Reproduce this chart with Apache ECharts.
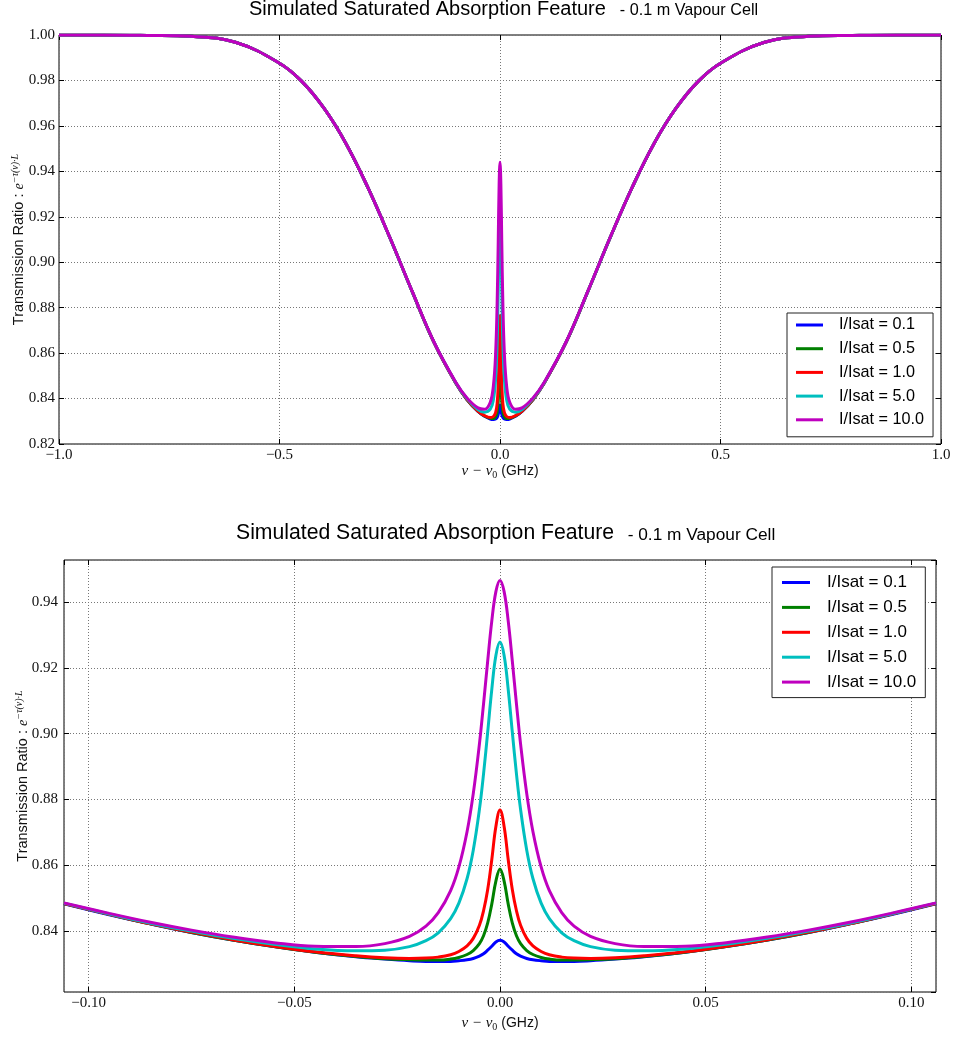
<!DOCTYPE html>
<html>
<head>
<meta charset="utf-8">
<script src="https://cdn.jsdelivr.net/npm/echarts@6/dist/echarts.min.js"></script>
<style>
html,body{margin:0;padding:0;background:#fff;}
#chart{width:954px;height:1038px;}
</style>
</head>
<body>
<div id="chart"></div>
<script>
// ---------- data ----------
const seriesNames = ['I/Isat = 0.1', 'I/Isat = 0.5', 'I/Isat = 1.0', 'I/Isat = 5.0', 'I/Isat = 10.0'];
const seriesColors = ['#0000ff', '#008000', '#ff0000', '#00bfbf', '#bf00bf'];

// full detuning range (GHz)
const xTop = [-1.0, -0.9, -0.8, -0.7, -0.6, -0.5, -0.45, -0.4, -0.35, -0.3, -0.25, -0.2, -0.15, -0.1, -0.075, -0.05, -0.035, -0.022, -0.015, -0.01, -0.0065, -0.004, -0.002,
  0,
  0.002, 0.004, 0.0065, 0.01, 0.015, 0.022, 0.035, 0.05, 0.075, 0.1, 0.15, 0.2, 0.25, 0.3, 0.35, 0.4, 0.45, 0.5, 0.6, 0.7, 0.8, 0.9, 1.0];

const blueTop = [1.0000, 1.0000, 0.9998, 0.9994, 0.9968, 0.9876, 0.9797, 0.9680, 0.9525, 0.9330, 0.9109, 0.8875, 0.8648, 0.8467, 0.8396, 0.8343, 0.8322, 0.8310, 0.8308, 0.8310, 0.8317, 0.8331, 0.8354,
  0.8372,
  0.8354, 0.8331, 0.8317, 0.8310, 0.8308, 0.8310, 0.8322, 0.8343, 0.8396, 0.8467, 0.8648, 0.8875, 0.9109, 0.9330, 0.9525, 0.9680, 0.9797, 0.9876, 0.9968, 0.9994, 0.9998, 1.0000, 1.0000];
const greenTop = [1.0000, 1.0000, 0.9998, 0.9994, 0.9968, 0.9876, 0.9797, 0.9680, 0.9525, 0.9330, 0.9109, 0.8875, 0.8648, 0.8467, 0.8396, 0.8344, 0.8323, 0.8313, 0.8312, 0.8320, 0.8341, 0.8386, 0.8482,
  0.8587,
  0.8482, 0.8386, 0.8341, 0.8320, 0.8312, 0.8313, 0.8323, 0.8344, 0.8396, 0.8467, 0.8648, 0.8875, 0.9109, 0.9330, 0.9525, 0.9680, 0.9797, 0.9876, 0.9968, 0.9994, 0.9998, 1.0000, 1.0000];
const redTop = [1.0000, 1.0000, 0.9998, 0.9994, 0.9968, 0.9876, 0.9797, 0.9680, 0.9525, 0.9330, 0.9109, 0.8875, 0.8648, 0.8467, 0.8397, 0.8345, 0.8325, 0.8317, 0.8321, 0.8338, 0.8378, 0.8462, 0.8617,
  0.8765,
  0.8617, 0.8462, 0.8378, 0.8338, 0.8321, 0.8317, 0.8325, 0.8345, 0.8397, 0.8467, 0.8648, 0.8875, 0.9109, 0.9330, 0.9525, 0.9680, 0.9797, 0.9876, 0.9968, 0.9994, 0.9998, 1.0000, 1.0000];
const cyanTop = [1.0000, 1.0000, 0.9998, 0.9994, 0.9968, 0.9876, 0.9797, 0.9680, 0.9525, 0.9330, 0.9109, 0.8875, 0.8649, 0.8469, 0.8400, 0.8352, 0.8340, 0.8353, 0.8395, 0.8485, 0.8646, 0.8878, 0.9134,
  0.9270,
  0.9134, 0.8878, 0.8646, 0.8485, 0.8395, 0.8353, 0.8340, 0.8352, 0.8400, 0.8469, 0.8649, 0.8875, 0.9109, 0.9330, 0.9525, 0.9680, 0.9797, 0.9876, 0.9968, 0.9994, 0.9998, 1.0000, 1.0000];
const magentaTop = [1.0000, 1.0000, 0.9998, 0.9994, 0.9968, 0.9876, 0.9797, 0.9680, 0.9525, 0.9331, 0.9110, 0.8876, 0.8650, 0.8471, 0.8403, 0.8359, 0.8353, 0.8384, 0.8456, 0.8595, 0.8818, 0.9091, 0.9342,
  0.9440,
  0.9342, 0.9091, 0.8818, 0.8595, 0.8456, 0.8384, 0.8353, 0.8359, 0.8403, 0.8471, 0.8650, 0.8876, 0.9110, 0.9331, 0.9525, 0.9680, 0.9797, 0.9876, 0.9968, 0.9994, 0.9998, 1.0000, 1.0000];

// zoom around line centre (GHz)
const xBot = [-0.106, -0.095, -0.085, -0.075, -0.065, -0.055, -0.045, -0.035, -0.028, -0.022, -0.018, -0.015, -0.012, -0.010, -0.008, -0.0065, -0.005, -0.004, -0.003, -0.002, -0.001,
  0,
  0.001, 0.002, 0.003, 0.004, 0.005, 0.0065, 0.008, 0.010, 0.012, 0.015, 0.018, 0.022, 0.028, 0.035, 0.045, 0.055, 0.065, 0.075, 0.085, 0.095, 0.106];

const blueBot = [0.8483, 0.8450, 0.8422, 0.8396, 0.8373, 0.8353, 0.8336, 0.8322, 0.8315, 0.8310, 0.8308, 0.8308, 0.8308, 0.8310, 0.8313, 0.8317, 0.8324, 0.8331, 0.8342, 0.8354, 0.8367,
  0.8372,
  0.8367, 0.8354, 0.8342, 0.8331, 0.8324, 0.8317, 0.8313, 0.8310, 0.8308, 0.8308, 0.8308, 0.8310, 0.8315, 0.8322, 0.8336, 0.8353, 0.8373, 0.8396, 0.8422, 0.8450, 0.8483];
const greenBot = [0.8484, 0.8451, 0.8422, 0.8396, 0.8373, 0.8353, 0.8336, 0.8323, 0.8316, 0.8313, 0.8312, 0.8312, 0.8315, 0.8320, 0.8329, 0.8341, 0.8362, 0.8386, 0.8424, 0.8482, 0.8552,
  0.8589,
  0.8552, 0.8482, 0.8424, 0.8386, 0.8362, 0.8341, 0.8329, 0.8320, 0.8315, 0.8312, 0.8312, 0.8313, 0.8316, 0.8323, 0.8336, 0.8353, 0.8373, 0.8396, 0.8422, 0.8451, 0.8484];
const redBot = [0.8484, 0.8451, 0.8422, 0.8397, 0.8374, 0.8354, 0.8337, 0.8325, 0.8319, 0.8317, 0.8318, 0.8321, 0.8328, 0.8338, 0.8355, 0.8378, 0.8418, 0.8462, 0.8526, 0.8617, 0.8718,
  0.8768,
  0.8718, 0.8617, 0.8526, 0.8462, 0.8418, 0.8378, 0.8355, 0.8338, 0.8328, 0.8321, 0.8318, 0.8317, 0.8319, 0.8325, 0.8337, 0.8354, 0.8374, 0.8397, 0.8422, 0.8451, 0.8484];
const cyanBot = [0.8485, 0.8452, 0.8424, 0.8400, 0.8378, 0.8360, 0.8346, 0.8340, 0.8342, 0.8353, 0.8371, 0.8395, 0.8438, 0.8485, 0.8560, 0.8646, 0.8770, 0.8878, 0.9004, 0.9134, 0.9238,
  0.9279,
  0.9238, 0.9134, 0.9004, 0.8878, 0.8770, 0.8646, 0.8560, 0.8485, 0.8438, 0.8395, 0.8371, 0.8353, 0.8342, 0.8340, 0.8346, 0.8360, 0.8378, 0.8400, 0.8424, 0.8452, 0.8485];
const magentaBot = [0.8486, 0.8454, 0.8427, 0.8403, 0.8382, 0.8365, 0.8354, 0.8353, 0.8362, 0.8384, 0.8415, 0.8456, 0.8523, 0.8595, 0.8703, 0.8818, 0.8969, 0.9091, 0.9220, 0.9342, 0.9432,
  0.9466,
  0.9432, 0.9342, 0.9220, 0.9091, 0.8969, 0.8818, 0.8703, 0.8595, 0.8523, 0.8456, 0.8415, 0.8384, 0.8362, 0.8353, 0.8354, 0.8365, 0.8382, 0.8403, 0.8427, 0.8454, 0.8486];

const topSets = [blueTop, greenTop, redTop, cyanTop, magentaTop];
const botSets = [blueBot, greenBot, redBot, cyanBot, magentaBot];

// ---------- helpers ----------
const SANS = 'Liberation Sans';
const SERIF = 'Liberation Serif';
function pairs(xs, ys) { return xs.map((x, i) => [x, ys[i]]); }
function fmt(d) { return v => (v < 0 ? '\u2212' : '') + Math.abs(v).toFixed(d); }

const gridLine = { show: true, lineStyle: { color: '#777', width: 1, type: [1, 2] } };
const tick = { show: true, inside: true, length: 5, lineStyle: { color: '#000', width: 1 } };
const noLine = { show: false, onZero: false };
const tickLabel = { color: '#111', fontFamily: SERIF, fontSize: 15 };

const xNameRich = {
  i: { fontFamily: SERIF, fontStyle: 'italic', fontSize: 15, color: '#111', lineHeight: 18 },
  s: { fontFamily: SERIF, fontSize: 10, color: '#111', verticalAlign: 'bottom', lineHeight: 12 },
  t: { fontFamily: SANS, fontSize: 14, color: '#111', lineHeight: 18 }
};
const yNameRich = {
  t: { fontFamily: SANS, fontSize: 14.5, color: '#111', lineHeight: 18 },
  e: { fontFamily: SERIF, fontStyle: 'italic', fontSize: 14, color: '#111', lineHeight: 18 },
  p: { fontFamily: SERIF, fontStyle: 'italic', fontSize: 10, color: '#111', verticalAlign: 'top', lineHeight: 12 }
};
const xName = '{i|\u03bd \u2212 \u03bd}{s|0}{t| (GHz)}';
const yName = '{t|Transmission Ratio : }{e|e}{p|\u2212\u03c4(\u03bd)\u00b7L}';

function titleRich(main, sub, gap) {
  return {
    a: { fontFamily: SANS, fontWeight: 'normal', fontSize: main, color: '#000', verticalAlign: 'bottom', lineHeight: 24 },
    b: { fontFamily: SANS, fontWeight: 'normal', fontSize: sub, color: '#000', verticalAlign: 'bottom', lineHeight: 20, padding: [0, 0, 0, gap] }
  };
}
const titleText = '{a|Simulated Saturated Absorption Feature}{b|  - 0.1 m Vapour Cell}';

const series = [];
topSets.forEach((ys, k) => series.push({
  name: seriesNames[k], type: 'line', xAxisIndex: 0, yAxisIndex: 0,
  data: pairs(xTop, ys), showSymbol: false, symbol: 'none', smooth: 0.4,
  lineStyle: { width: 3, color: seriesColors[k] }, itemStyle: { color: seriesColors[k] }, z: 2 + k
}));
botSets.forEach((ys, k) => series.push({
  name: seriesNames[k], type: 'line', xAxisIndex: 2, yAxisIndex: 2,
  data: pairs(xBot, ys), showSymbol: false, symbol: 'none', smooth: 0.4,
  lineStyle: { width: 3, color: seriesColors[k] }, itemStyle: { color: seriesColors[k] }, z: 2 + k
}));

function legendOpt(left, top, fs, iw, gap, pad, txtPad) {
  return {
    orient: 'vertical', left: left, top: top, data: seriesNames,
    icon: 'rect', itemWidth: iw, itemHeight: 3, itemGap: gap,
    padding: pad, borderColor: '#222', borderWidth: 1, backgroundColor: '#fff',
    selectedMode: false,
    textStyle: { fontFamily: SANS, fontSize: fs, color: '#000', lineHeight: 20, padding: [0, 0, 0, txtPad] }
  };
}

const option = {
  animation: false,
  backgroundColor: '#fff',
  title: [
    { text: titleText, left: 249, top: -5, padding: 0, textStyle: { rich: titleRich(20, 16.2, 5) } },
    { text: titleText, left: 236, top: 520, padding: 0, textStyle: { rich: titleRich(21.2, 17.3, 4) } }
  ],
  legend: [
    legendOpt(787, 313, 16.2, 27, 3.7, [2, 9, 7, 9], 11),
    legendOpt(772, 567, 17, 28, 4.9, [5.5, 9, 5.5, 10], 12)
  ],
  grid: [
    { left: 59, right: 13, top: 35, height: 409, show: true, borderColor: '#000', borderWidth: 1, backgroundColor: '#fff', outerBoundsMode: 'none', containLabel: false },
    { left: 64, right: 18, top: 560, height: 432, show: true, borderColor: '#000', borderWidth: 1, backgroundColor: '#fff', outerBoundsMode: 'none', containLabel: false }
  ],
  xAxis: [
    { type: 'value', gridIndex: 0, min: -1, max: 1, interval: 0.5, axisLine: noLine, axisTick: tick,
      splitLine: gridLine, axisLabel: Object.assign({ formatter: fmt(1), margin: 4 }, tickLabel),
      name: xName, nameLocation: 'middle', nameGap: 18, nameMoveOverlap: false, nameTextStyle: { rich: xNameRich } },
    { type: 'value', gridIndex: 0, position: 'top', min: -1, max: 1, interval: 0.5, axisLine: noLine, axisTick: tick,
      splitLine: { show: false }, axisLabel: { show: false } },
    { type: 'value', gridIndex: 1, min: -0.106, max: 0.106, splitNumber: 5, axisLine: noLine, axisTick: tick,
      splitLine: gridLine, axisLabel: Object.assign({ formatter: fmt(2), margin: 4, showMinLabel: false, showMaxLabel: false }, tickLabel),
      name: xName, nameLocation: 'middle', nameGap: 22, nameMoveOverlap: false, nameTextStyle: { rich: xNameRich } },
    { type: 'value', gridIndex: 1, position: 'top', min: -0.106, max: 0.106, splitNumber: 5, axisLine: noLine, axisTick: tick,
      splitLine: { show: false }, axisLabel: { show: false } }
  ],
  yAxis: [
    { type: 'value', gridIndex: 0, min: 0.82, max: 1.0, interval: 0.02, axisLine: noLine, axisTick: tick,
      splitLine: gridLine, axisLabel: Object.assign({ formatter: fmt(2), margin: 4 }, tickLabel),
      name: yName, nameLocation: 'middle', nameGap: 31, nameMoveOverlap: false, nameTextStyle: { rich: yNameRich } },
    { type: 'value', gridIndex: 0, position: 'right', min: 0.82, max: 1.0, interval: 0.02, axisLine: noLine, axisTick: tick,
      splitLine: { show: false }, axisLabel: { show: false } },
    { type: 'value', gridIndex: 1, min: 0.8215, max: 0.9528, splitNumber: 6, axisLine: noLine, axisTick: tick,
      splitLine: gridLine, axisLabel: Object.assign({ formatter: fmt(2), margin: 6, showMinLabel: false, showMaxLabel: false }, tickLabel),
      name: yName, nameLocation: 'middle', nameGap: 32, nameMoveOverlap: false, nameTextStyle: { rich: yNameRich } },
    { type: 'value', gridIndex: 1, position: 'right', min: 0.8215, max: 0.9528, splitNumber: 6, axisLine: noLine, axisTick: tick,
      splitLine: { show: false }, axisLabel: { show: false } }
  ],
  series: series
};

const chart = echarts.init(document.getElementById('chart'), null, { renderer: 'canvas' });
chart.setOption(option);
</script>
</body>
</html>
